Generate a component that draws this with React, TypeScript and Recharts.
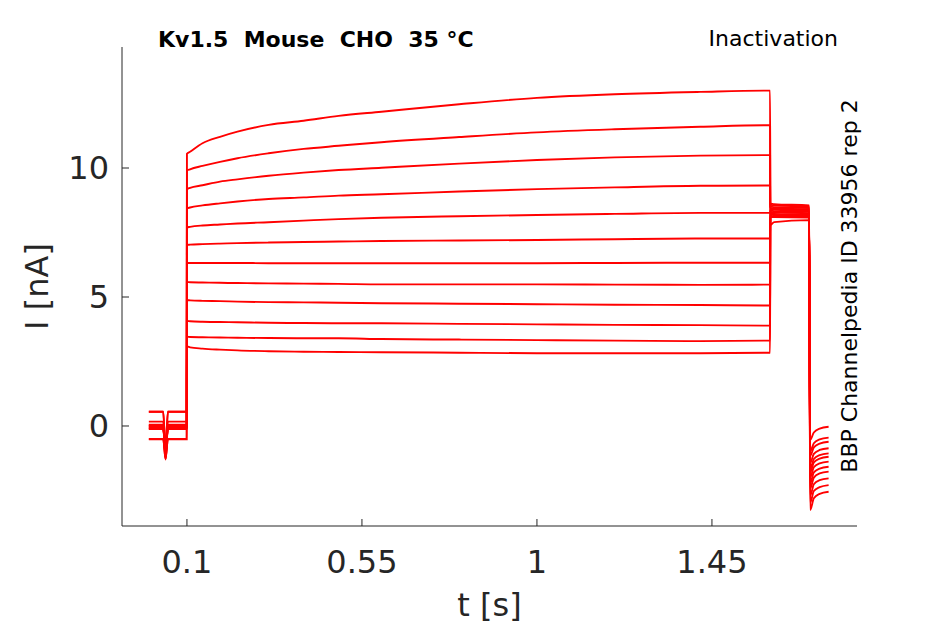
import { LineChart, Line, XAxis, YAxis, Label } from "recharts";

// sample times [s], shared by all sweeps
const timePoints = [
  0.002, 0.039, 0.045, 0.051, 0.0995,
  0.1, 0.108, 0.14, 0.185, 0.23, 0.31, 0.4, 0.49, 0.6, 0.8, 1.0, 1.2, 1.42, 1.5995,
  1.6, 1.61, 1.7,
  1.7025, 1.712, 1.727, 1.75,
];

// current [nA] per sweep: baseline, step, tail, return
const sweep1 = [-0.05, -0.05, -1.3, -0.05, -0.05, 10.55, 10.63, 10.96, 11.21, 11.41, 11.67, 11.83, 12.02, 12.18, 12.47, 12.72, 12.86, 12.95, 13.0, 7.79, 7.9, 7.98, -3.26, -2.8, -2.63, -2.55];
const sweep2 = [0.55, 0.55, -1.0, 0.55, 0.55, 9.9, 9.95, 10.08, 10.24, 10.38, 10.57, 10.74, 10.86, 11.0, 11.2, 11.38, 11.5, 11.6, 11.66, 8.58, 8.55, 8.5, -2.97, -2.52, -2.37, -2.29];
const sweep3 = [0.0, 0.0, -1.2, 0.0, 0.0, 9.18, 9.23, 9.33, 9.47, 9.56, 9.7, 9.82, 9.92, 10.01, 10.17, 10.31, 10.41, 10.48, 10.5, 8.5, 8.48, 8.45, -2.7, -2.26, -2.1, -2.03];
const sweep4 = [-0.52, -0.52, -1.25, -0.52, -0.52, 8.43, 8.47, 8.55, 8.63, 8.7, 8.8, 8.86, 8.93, 8.98, 9.09, 9.18, 9.25, 9.31, 9.32, 8.45, 8.42, 8.4, -2.43, -2.0, -1.84, -1.77];
const sweep5 = [0.17, 0.17, -1.1, 0.17, 0.17, 7.7, 7.72, 7.77, 7.81, 7.85, 7.9, 7.96, 8.02, 8.07, 8.13, 8.18, 8.22, 8.26, 8.26, 8.4, 8.38, 8.35, -2.22, -1.8, -1.65, -1.58];
const sweep6 = [-0.1, -0.1, -0.9, -0.1, -0.1, 7.02, 7.03, 7.05, 7.07, 7.09, 7.11, 7.13, 7.15, 7.17, 7.19, 7.21, 7.24, 7.27, 7.27, 8.35, 8.32, 8.3, -2.0, -1.6, -1.45, -1.38];
const sweep7 = [0.55, 0.55, -1.05, 0.55, 0.55, 6.32, 6.32, 6.32, 6.32, 6.32, 6.31, 6.31, 6.31, 6.31, 6.31, 6.31, 6.32, 6.33, 6.33, 8.3, 8.28, 8.25, -1.8, -1.41, -1.26, -1.19];
const sweep8 = [0.05, 0.05, -1.15, 0.05, 0.05, 5.58, 5.57, 5.56, 5.55, 5.54, 5.53, 5.52, 5.51, 5.49, 5.49, 5.49, 5.48, 5.47, 5.48, 8.25, 8.22, 8.2, -1.65, -1.28, -1.13, -1.06];
const sweep9 = [-0.5, -0.5, -1.28, -0.5, -0.5, 4.88, 4.87, 4.85, 4.84, 4.82, 4.8, 4.79, 4.78, 4.76, 4.74, 4.72, 4.7, 4.69, 4.67, 8.2, 8.18, 8.15, -1.43, -1.08, -0.93, -0.86];
const sweep10 = [-0.12, -0.12, -0.95, -0.12, -0.12, 4.07, 4.06, 4.04, 4.03, 4.02, 4.0, 3.99, 3.98, 3.98, 3.96, 3.94, 3.92, 3.91, 3.89, 8.15, 8.12, 8.1, -1.16, -0.83, -0.68, -0.61];
const sweep11 = [0.02, 0.02, -1.2, 0.02, 0.02, 3.46, 3.45, 3.44, 3.43, 3.42, 3.41, 3.4, 3.4, 3.37, 3.35, 3.33, 3.31, 3.29, 3.31, 8.62, 8.6, 8.55, -0.98, -0.67, -0.52, -0.45];
const sweep12 = [-0.08, -0.08, -1.1, -0.08, -0.08, 3.08, 3.05, 3.0, 2.96, 2.93, 2.9, 2.88, 2.87, 2.86, 2.84, 2.82, 2.82, 2.82, 2.84, 8.1, 8.1, 8.08, -0.54, -0.25, -0.1, -0.03];

const sweeps = [sweep1, sweep2, sweep3, sweep4, sweep5, sweep6, sweep7, sweep8, sweep9, sweep10, sweep11, sweep12];

const xTicks = [0.1, 0.55, 1, 1.45];
const yTicks = [0, 5, 10];

const FONT = "'DejaVu Sans', sans-serif";
const AXIS = "#262626";

function toRows(vals: number[]) {
  return timePoints.map((t, k) => ({ t, i: vals[k] }));
}

export default function App() {
  return (
    <div style={{ position: "absolute", left: 0, top: 0, width: 945, height: 624, background: "#fff" }}>
      <LineChart width={945} height={624} margin={{ top: 47, right: 88, bottom: 0, left: 0 }}>
        <XAxis
          type="number"
          dataKey="t"
          domain={[-0.067, 1.823]}
          allowDataOverflow
          ticks={xTicks}
          tickSize={-7}
          tickMargin={31}
          height={98}
          stroke={AXIS}
          tick={{ fill: AXIS, fontSize: 32, fontFamily: FONT }}
        >
          <Label value="t [s]" position="insideBottom" offset={8} fill={AXIS} fontSize={32} fontFamily={FONT} />
        </XAxis>
        <YAxis
          type="number"
          domain={[-3.876, 14.69]}
          allowDataOverflow
          ticks={yTicks}
          tickSize={-7}
          tickMargin={20}
          width={122}
          stroke={AXIS}
          tick={{ fill: AXIS, fontSize: 32, fontFamily: FONT }}
        >
          <Label
            value="I [nA]"
            position="insideLeft"
            angle={-90}
            offset={37}
            fill={AXIS}
            fontSize={32}
            fontFamily={FONT}
            style={{ textAnchor: "middle" }}
          />
        </YAxis>
        {sweeps.map((s, k) => (
          <Line
            key={k}
            data={toRows(s)}
            dataKey="i"
            type="monotone"
            stroke="#ff0000"
            strokeWidth={1.9}
            dot={false}
            activeDot={false}
            isAnimationActive={false}
          />
        ))}
      </LineChart>
      <svg
        width={945}
        height={624}
        style={{ position: "absolute", left: 0, top: 0, pointerEvents: "none", fontFamily: FONT }}
      >
        <text x={158} y={46.5} fontSize={22} fontWeight="bold" fill="#000" style={{ whiteSpace: "pre" }}>
          Kv1.5  Mouse  CHO  35 °C
        </text>
        <text x={838} y={46} fontSize={22} fill="#000" textAnchor="end">
          Inactivation
        </text>
        <text transform="translate(857,286) rotate(-90)" fontSize={22} fill="#000" textAnchor="middle">
          BBP Channelpedia ID 33956 rep 2
        </text>
      </svg>
    </div>
  );
}
